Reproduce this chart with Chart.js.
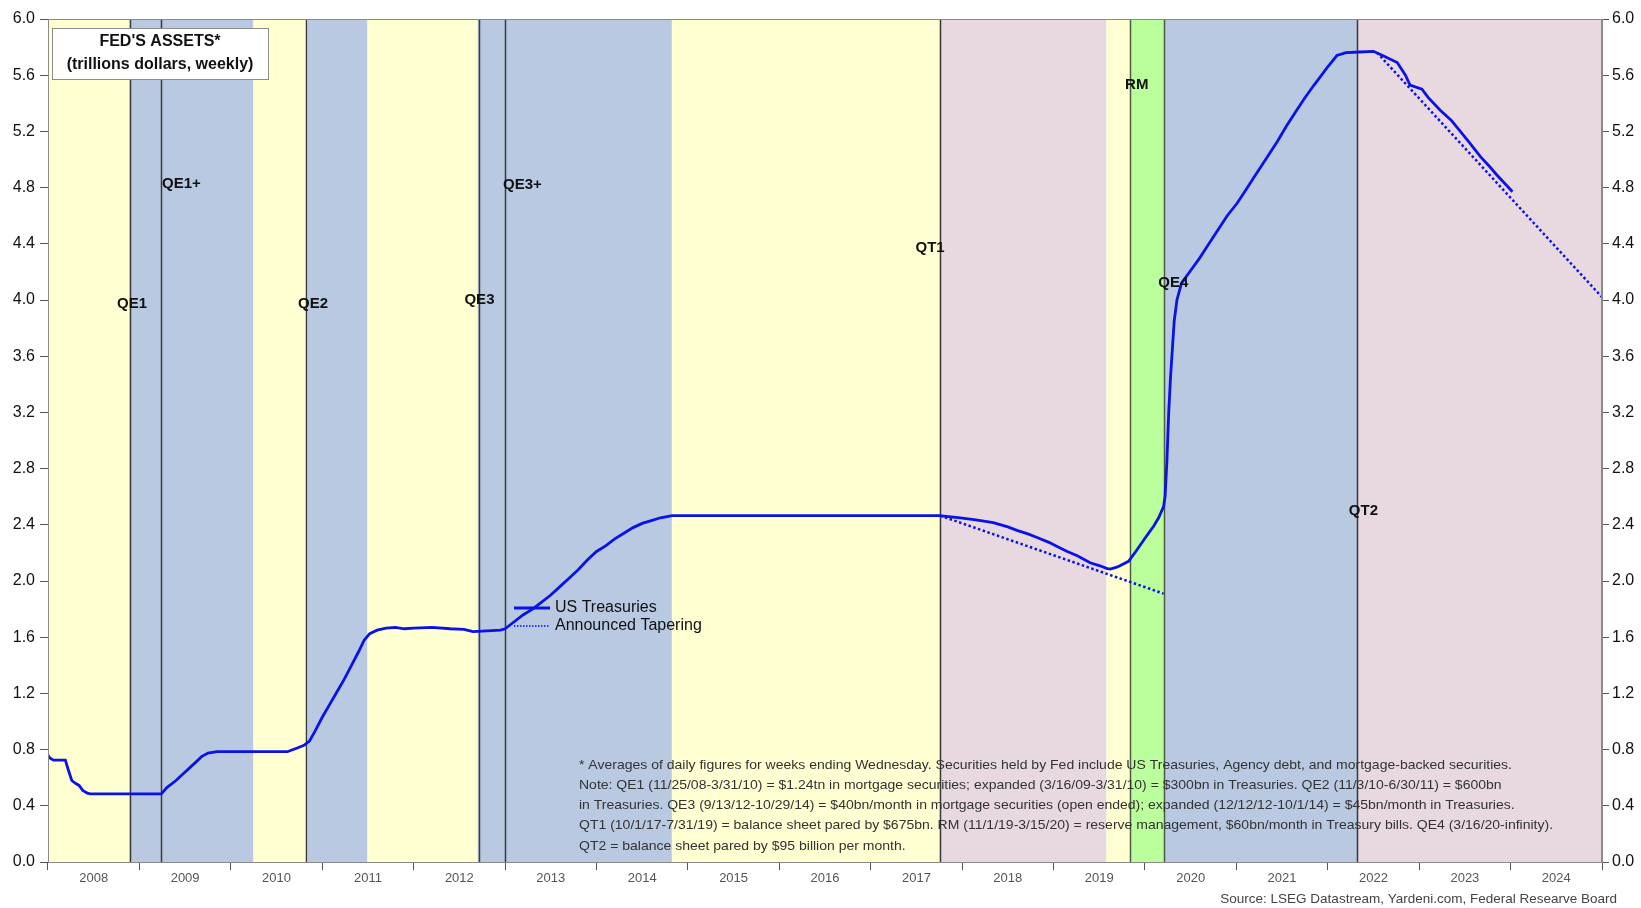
<!DOCTYPE html>
<html>
<head>
<meta charset="utf-8">
<title>Fed's Assets</title>
<script src="https://cdn.jsdelivr.net/npm/chart.js@4.4.1/dist/chart.umd.min.js"></script>
<style>
  html, body { margin: 0; padding: 0; background: #fff; }
  #wrap { width: 1641px; height: 908px; }
</style>
</head>
<body>
<div id="wrap"><canvas id="chart-fed-assets" width="1641" height="908"></canvas></div>
<script>
// Fed's assets: US Treasuries held, weekly, trillions of dollars

const yearLabels = [2008, 2009, 2010, 2011, 2012, 2013, 2014, 2015, 2016,
  2017, 2018, 2019, 2020, 2021, 2022, 2023, 2024];
const yTickValues = [0, 0.4, 0.8, 1.2, 1.6, 2.0, 2.4, 2.8, 3.2, 3.6, 4.0,
  4.4, 4.8, 5.2, 5.6, 6.0];

// decimal years
const ustDates = [
  2008.00, 2008.02, 2008.06, 2008.19, 2008.22, 2008.26, 2008.30, 2008.34, 2008.38, 2008.43,
  2008.46, 2008.90, 2009.24, 2009.30, 2009.40, 2009.50, 2009.60, 2009.68, 2009.75, 2009.85,
  2010.00, 2010.30, 2010.62, 2010.66, 2010.72, 2010.80, 2010.86, 2010.92, 2011.00, 2011.08,
  2011.16, 2011.24, 2011.32, 2011.40, 2011.46, 2011.52, 2011.60, 2011.70, 2011.80, 2011.90,
  2012.00, 2012.20, 2012.40, 2012.55, 2012.65, 2012.80, 2012.95, 2013.00, 2013.10, 2013.20,
  2013.30, 2013.40, 2013.50, 2013.60, 2013.70, 2013.80, 2013.90, 2014.00, 2014.10, 2014.20,
  2014.30, 2014.40, 2014.50, 2014.60, 2014.70, 2014.83, 2015.50, 2016.50, 2017.75, 2017.98,
  2018.15, 2018.34, 2018.50, 2018.60, 2018.72, 2018.82, 2018.95, 2019.04, 2019.15, 2019.26,
  2019.40, 2019.50, 2019.58, 2019.62, 2019.70, 2019.82, 2019.90, 2019.985, 2020.05, 2020.095,
  2020.15, 2020.204, 2020.22, 2020.24, 2020.26, 2020.28, 2020.30, 2020.32, 2020.35, 2020.40,
  2020.50, 2020.60, 2020.68, 2020.80, 2020.90, 2021.01, 2021.10, 2021.20, 2021.34, 2021.45,
  2021.55, 2021.66, 2021.75, 2021.85, 2021.92, 2022.00, 2022.10, 2022.20, 2022.35, 2022.50,
  2022.60, 2022.76, 2022.85, 2022.90, 2023.03, 2023.10, 2023.23, 2023.35, 2023.45, 2023.55,
  2023.67, 2023.77, 2023.85, 2023.95, 2024.02
];
const ustValues = [
  0.76, 0.74, 0.725, 0.725, 0.66, 0.58, 0.56, 0.545, 0.51, 0.49,
  0.485, 0.485, 0.485, 0.53, 0.58, 0.64, 0.70, 0.75, 0.775, 0.785,
  0.785, 0.785, 0.785, 0.795, 0.81, 0.83, 0.86, 0.93, 1.03, 1.12,
  1.21, 1.30, 1.40, 1.50, 1.58, 1.625, 1.65, 1.665, 1.67, 1.66,
  1.665, 1.67, 1.66, 1.655, 1.64, 1.645, 1.65, 1.66, 1.71, 1.76,
  1.80, 1.85, 1.90, 1.96, 2.02, 2.08, 2.15, 2.21, 2.25, 2.30,
  2.34, 2.38, 2.41, 2.43, 2.45, 2.465, 2.465, 2.465, 2.465, 2.45,
  2.435, 2.415, 2.385, 2.36, 2.335, 2.31, 2.275, 2.245, 2.21, 2.18,
  2.13, 2.11, 2.09, 2.085, 2.10, 2.14, 2.21, 2.29, 2.35, 2.39,
  2.45, 2.53, 2.60, 2.85, 3.20, 3.45, 3.65, 3.85, 4.00, 4.12,
  4.21, 4.30, 4.38, 4.50, 4.60, 4.69, 4.78, 4.88, 5.02, 5.13,
  5.24, 5.35, 5.44, 5.53, 5.59, 5.66, 5.74, 5.76, 5.765, 5.77,
  5.74, 5.69, 5.60, 5.53, 5.50, 5.44, 5.35, 5.28, 5.20, 5.12,
  5.02, 4.95, 4.89, 4.82, 4.77
];

const taperQT1Dates = [2017.76, 2020.204];
const taperQT1Values = [2.465, 1.91];
const taperQT2Dates = [2022.54, 2025.0];
const taperQT2Values = [5.76, 4.02];

// policy regimes shaded behind the line
const bandStart = [2008.0, 2008.893, 2010.247, 2010.84, 2011.495, 2012.70, 2014.825,
  2017.754, 2019.58, 2019.836, 2020.204, 2022.32];
const bandEnd = [2008.893, 2010.247, 2010.84, 2011.495, 2012.70, 2014.825, 2017.754,
  2019.58, 2019.836, 2020.204, 2022.32, 2025.0];
const bandKind = ["none", "qe", "none", "qe", "none", "qe", "none",
  "qt", "none", "rm", "qe", "qt"];

const eventLineDates = [2008.893, 2009.24, 2010.826, 2012.71, 2013.0, 2017.754,
  2019.836, 2020.204, 2022.32];
const eventNames = ["QE1", "QE1+", "QE2", "QE3", "QE3+", "QT1", "RM", "QE4", "QT2"];
const eventNameX = [2008.92, 2009.46, 2010.90, 2012.72, 2013.19, 2017.65, 2019.91, 2020.31, 2022.39];
const eventNameY = [3.97, 4.83, 3.97, 4.0, 4.82, 4.37, 5.53, 4.12, 2.50];

const footnoteLines = [
  "* Averages of daily figures for weeks ending Wednesday. Securities held by Fed include US Treasuries, Agency debt, and mortgage-backed securities.",
  "Note: QE1 (11/25/08-3/31/10) = $1.24tn in mortgage securities; expanded (3/16/09-3/31/10) = $300bn in Treasuries. QE2 (11/3/10-6/30/11) = $600bn",
  "in Treasuries. QE3 (9/13/12-10/29/14) = $40bn/month in mortgage securities (open ended); expanded (12/12/12-10/1/14) = $45bn/month in Treasuries.",
  "QT1 (10/1/17-7/31/19) = balance sheet pared by $675bn. RM (11/1/19-3/15/20) = reserve management, $60bn/month in Treasury bills. QE4 (3/16/20-infinity).",
  "QT2 = balance sheet pared by $95 billion per month."
];

const FONT = "'Liberation Sans', Arial, sans-serif";
const BLUE = "#0b12e8";
const BAND_COLORS = { none: "#ffffd2", qe: "#b8c9e1", qt: "#e8d9e1", rm: "#bbff9c" };

function toPoints(xs, ys) {
  return xs.map((x, i) => ({ x, y: ys[i] }));
}

const bandsPlugin = {
  id: "bands",
  beforeDatasetsDraw(chart) {
    const { ctx, chartArea: a, scales } = chart;
    const xs = scales.x;
    ctx.save();
    bandStart.forEach((s, i) => {
      const x0 = xs.getPixelForValue(s);
      const x1 = xs.getPixelForValue(bandEnd[i]);
      ctx.fillStyle = BAND_COLORS[bandKind[i]];
      ctx.fillRect(x0, a.top, x1 - x0, a.bottom - a.top);
    });
    eventLineDates.forEach((d, i) => {
      const x = Math.round(xs.getPixelForValue(d)) + 0.5;
      ctx.strokeStyle = (i === 6 || i === 7) ? "#4d5a44" : "#3a3a3a";
      ctx.lineWidth = 1.5;
      ctx.beginPath();
      ctx.moveTo(x, a.top);
      ctx.lineTo(x, a.bottom);
      ctx.stroke();
    });
    ctx.restore();
  },
};

const annotatePlugin = {
  id: "annotate",
  afterDatasetsDraw(chart) {
    const { ctx, chartArea: a, scales } = chart;
    ctx.save();

    // frame
    ctx.strokeStyle = "#8a8a8a";
    ctx.lineWidth = 1;
    ctx.strokeRect(a.left + 0.5, a.top + 0.5, a.right - a.left - 1, a.bottom - a.top);

    // event labels
    ctx.fillStyle = "#111";
    ctx.font = "bold 15px " + FONT;
    ctx.textAlign = "center";
    ctx.textBaseline = "middle";
    eventNames.forEach((name, i) => {
      ctx.fillText(name, scales.x.getPixelForValue(eventNameX[i]), scales.y.getPixelForValue(eventNameY[i]));
    });

    // title box
    const bx = a.left + 4, by = a.top + 9, bw = 216, bh = 51;
    ctx.fillStyle = "#fff";
    ctx.fillRect(bx, by, bw, bh);
    ctx.strokeStyle = "#8c8c8c";
    ctx.strokeRect(bx + 0.5, by + 0.5, bw, bh);
    ctx.fillStyle = "#111";
    ctx.font = "bold 16px " + FONT;
    ctx.fillText("FED'S ASSETS*", bx + bw / 2, by + 14);
    ctx.fillText("(trillions dollars, weekly)", bx + bw / 2, by + 37);

    // legend
    const lx = 514, ly = 608;
    ctx.strokeStyle = BLUE;
    ctx.lineWidth = 3;
    ctx.beginPath(); ctx.moveTo(lx, ly); ctx.lineTo(lx + 36, ly); ctx.stroke();
    ctx.lineWidth = 1.5;
    ctx.setLineDash([1.5, 1.5]);
    ctx.beginPath(); ctx.moveTo(lx, ly + 18); ctx.lineTo(lx + 36, ly + 18); ctx.stroke();
    ctx.setLineDash([]);
    ctx.fillStyle = "#111";
    ctx.font = "16px " + FONT;
    ctx.textAlign = "left";
    ctx.fillText("US Treasuries", lx + 41, ly);
    ctx.fillText("Announced Tapering", lx + 41, ly + 18);

    // footnote, squeezed to the reference width
    ctx.font = "13px " + FONT;
    ctx.fillStyle = "#333";
    const fx = 579, fy = 765;
    const sx = 933 / ctx.measureText(footnoteLines[0]).width;
    footnoteLines.forEach((line, i) => {
      ctx.save();
      ctx.translate(fx, fy + i * 20.3);
      ctx.scale(sx, 1);
      ctx.fillText(line, 0, 0);
      ctx.restore();
    });

    // source
    ctx.font = "13.5px " + FONT;
    ctx.fillStyle = "#444";
    ctx.textAlign = "right";
    ctx.fillText("Source: LSEG Datastream, Yardeni.com, Federal Researve Board", 1617, 899);

    ctx.restore();
  },
};

const yTickOpts = {
  color: "#111",
  font: { size: 16, family: FONT },
  callback: (v) => Number(v).toFixed(1),
};

new Chart(document.getElementById("chart-fed-assets").getContext("2d"), {
  type: "line",
  data: {
    datasets: [
      {
        label: "US Treasuries",
        data: toPoints(ustDates, ustValues),
        borderColor: BLUE,
        borderWidth: 2.8,
        pointRadius: 0,
        tension: 0,
      },
      {
        label: "Announced Tapering",
        data: toPoints(taperQT1Dates, taperQT1Values),
        borderColor: BLUE,
        borderWidth: 2.5,
        borderDash: [2.5, 2.5],
        pointRadius: 0,
      },
      {
        label: "Announced Tapering (QT2)",
        data: toPoints(taperQT2Dates, taperQT2Values),
        borderColor: BLUE,
        borderWidth: 2.5,
        borderDash: [2.5, 2.5],
        pointRadius: 0,
      },
    ],
  },
  options: {
    responsive: false,
    animation: false,
    devicePixelRatio: 1,
    layout: { padding: { top: 19, left: 0, right: 0, bottom: 0 } },
    plugins: { legend: { display: false }, tooltip: { enabled: false } },
    scales: {
      x: {
        type: "linear",
        min: 2008,
        max: 2025,
        afterBuildTicks: (s) => { s.ticks = yearLabels.map((y) => ({ value: y + 0.5 })); },
        afterFit: (s) => { s.height = 46; },
        ticks: {
          autoSkip: false,
          maxRotation: 0,
          padding: 1,
          color: "#555",
          font: { size: 13, family: FONT },
          callback: (v) => String(Math.floor(v)),
        },
        grid: { offset: true, drawOnChartArea: false, drawTicks: true, tickLength: 8, tickColor: "#555" },
        border: { display: true, color: "#8a8a8a" },
      },
      y: {
        position: "left",
        min: 0,
        max: 6,
        afterBuildTicks: (s) => { s.ticks = yTickValues.map((v) => ({ value: v })); },
        afterFit: (s) => { s.width = 48; },
        ticks: Object.assign({ padding: 5 }, yTickOpts),
        grid: { drawOnChartArea: false, tickLength: 8, tickColor: "#555" },
        border: { color: "#8a8a8a" },
      },
      y2: {
        position: "right",
        min: 0,
        max: 6,
        afterBuildTicks: (s) => { s.ticks = yTickValues.map((v) => ({ value: v })); },
        afterFit: (s) => { s.width = 39; },
        ticks: Object.assign({ padding: 3 }, yTickOpts),
        grid: { drawOnChartArea: false, tickLength: 7, tickColor: "#555" },
        border: { color: "#8a8a8a" },
      },
    },
  },
  plugins: [bandsPlugin, annotatePlugin],
});
</script>
</body>
</html>
